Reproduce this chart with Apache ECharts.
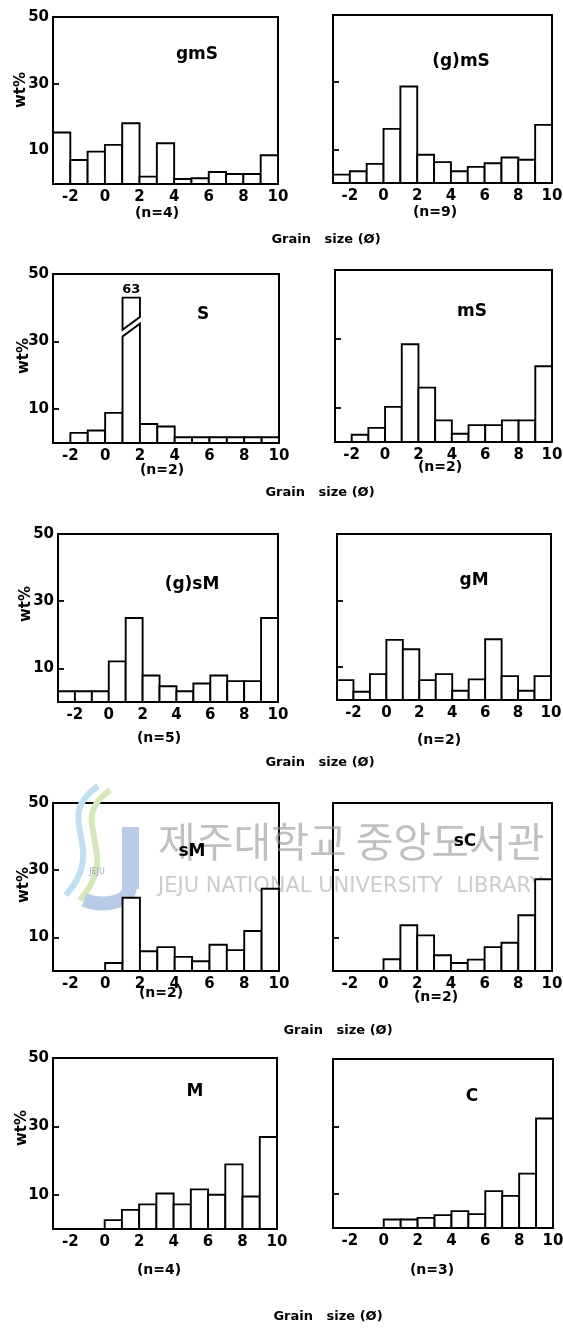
<!DOCTYPE html>
<html>
<head>
<meta charset="utf-8">
<style>
html, body { margin: 0; padding: 0; background: #fff; }
#main { width: 563px; height: 1329px; }
</style>
<script src="https://cdn.jsdelivr.net/npm/echarts@6/dist/echarts.min.js"></script>
</head>
<body>
<div id="main"></div>
<script>
// grain size distributions (wt% per 1 phi class), one histogram per sediment type
var binEdges = [-3, -2, -1, 0, 1, 2, 3, 4, 5, 6, 7, 8, 9, 10];
var xTickLabels = [-2, 0, 2, 4, 6, 8, 10];
var yTickLabels = [10, 30, 50];
var yTicks = [10, 30];

var panelNames = ['gmS', '(g)mS', 'S', 'mS', '(g)sM', 'gM', 'sM', 'sC', 'M', 'C'];
var sampleCounts = [4, 9, 2, 2, 5, 2, 2, 2, 4, 3];

var gmS  = [15.4, 7.2, 9.7, 11.7, 18.2, 2.2, 12.2, 1.5, 1.7, 3.6, 3.0, 3.0, 8.6];
var g_mS = [2.5, 3.5, 5.7, 16.1, 28.7, 8.4, 6.2, 3.5, 4.8, 5.9, 7.6, 6.9, 17.3];
var S    = [0, 3.0, 3.7, 8.9, 63, 5.6, 4.9, 1.7, 1.7, 1.7, 1.7, 1.7, 1.7];
var mS   = [0, 2.1, 4.1, 10.2, 28.4, 15.8, 6.3, 2.4, 4.9, 4.9, 6.3, 6.3, 22.0];
var g_sM = [3.2, 3.2, 3.2, 12.1, 25.0, 7.9, 4.7, 3.2, 5.5, 7.9, 6.2, 6.2, 25.0];
var gM   = [6.0, 2.5, 7.8, 18.1, 15.3, 6.0, 7.8, 2.8, 6.2, 18.3, 7.2, 2.8, 7.2];
var sM   = [0, 0, 0, 2.4, 21.8, 5.9, 7.1, 4.2, 2.9, 7.8, 6.2, 11.9, 24.5];
var sC   = [0, 0, 0, 3.5, 13.6, 10.6, 4.7, 2.4, 3.4, 7.1, 8.4, 16.6, 27.3];
var M    = [0, 0, 0, 2.6, 5.6, 7.2, 10.4, 7.2, 11.6, 10.0, 18.9, 9.5, 26.9];
var C    = [0, 0, 0, 2.5, 2.5, 3.0, 3.8, 5.0, 4.1, 10.9, 9.5, 16.1, 32.4];
var panelValues = [gmS, g_mS, S, mS, g_sM, gM, sM, sC, M, C];

var axisTitle = 'Grain   size (Ø)';
var yTitle = 'wt%';

// layout (px)
var boxes = [
    [53, 17, 225, 167], [333, 15, 219, 168],
    [53, 274, 226, 169], [335, 270, 217, 172],
    [58, 534, 220, 168], [337, 534, 214, 166],
    [53, 803, 226, 168], [333, 803, 219, 168],
    [53, 1058, 224, 171], [333, 1059, 220, 169]
];
var namePos = [[197, 55], [461, 62], [203, 315], [472, 312], [192, 585], [474, 581], [192, 852], [465, 842], [195, 1092], [472, 1097]];
var nPos = [[157, 213], [435, 212], [162, 470], [440, 467], [159, 738], [439, 740], [161, 993], [436, 997], [159, 1270], [432, 1270]];
var axisTitlePos = [[326, 240], [320, 493], [320, 763], [338, 1031], [328, 1317]];
var yTitlePos = [[21, 90], [24, 356], [26, 604], [24, 885], [22, 1128]];

var FONT = '"DejaVu Sans", sans-serif';
var Y_MAX = 50;

var dom = document.getElementById('main');
var myChart = echarts.init(dom);

function renderBin(params, api) {
    var x0 = api.value(0), x1 = api.value(1), v = api.value(2);
    if (!v) return null;
    var style = { fill: '#fff', stroke: '#000', lineWidth: 1.9 };
    if (v <= Y_MAX) {
        var a = api.coord([x0, 0]), b = api.coord([x1, v]);
        return {
            type: 'rect',
            shape: { x: a[0], y: b[1], width: b[0] - a[0], height: a[1] - b[1] },
            style: style
        };
    }
    // off-scale class: broken bar, real value written above it
    var cap = 43, lo = 31.5, gap = 2, slant = 3.8;
    var P = function (x, y) { return api.coord([x, y]); };
    var top = P((x0 + x1) / 2, cap);
    return {
        type: 'group',
        children: [
            { type: 'polygon', shape: { points: [P(x0, 0), P(x1, 0), P(x1, lo + slant), P(x0, lo)] }, style: style },
            { type: 'polygon', shape: { points: [P(x0, lo + gap), P(x1, lo + gap + slant), P(x1, cap), P(x0, cap)] }, style: style },
            {
                type: 'text', x: top[0], y: top[1] - 2,
                style: {
                    text: String(v), font: 'bold 13px ' + FONT, fill: '#000',
                    align: 'center', verticalAlign: 'bottom', textAlign: 'center', textVerticalAlign: 'bottom'
                }
            }
        ]
    };
}

function label(text, x, y, size, extra) {
    var el = {
        type: 'text', x: x, y: y, z: 10,
        style: {
            text: text, font: 'bold ' + size + 'px ' + FONT, fill: '#000',
            align: 'center', verticalAlign: 'middle', textAlign: 'center', textVerticalAlign: 'middle'
        }
    };
    if (extra) for (var k in extra) el[k] = extra[k];
    return el;
}

var grids = [], xAxes = [], yAxes = [], series = [], graphics = [];

panelValues.forEach(function (vals, i) {
    var b = boxes[i];
    grids.push({
        left: b[0], top: b[1], width: b[2], height: b[3],
        show: true, borderColor: '#000', borderWidth: 2,
        backgroundColor: 'transparent', outerBoundsMode: 'none'
    });
    xAxes.push({
        gridIndex: i, type: 'value', min: -3, max: 10,
        axisLine: { show: false, onZero: false }, axisTick: { show: false }, splitLine: { show: false },
        axisLabel: {
            customValues: xTickLabels, margin: 6, color: '#000',
            fontSize: 15, fontWeight: 'bold', fontFamily: FONT
        }
    });
    yAxes.push({
        gridIndex: i, type: 'value', min: 0, max: Y_MAX,
        axisLine: { show: false, onZero: false }, splitLine: { show: false },
        axisTick: { show: true, customValues: yTicks, inside: true, length: 6, lineStyle: { color: '#000', width: 1.8 } },
        axisLabel: {
            show: i % 2 === 0, customValues: yTickLabels, margin: 4, color: '#000',
            fontSize: 15, fontWeight: 'bold', fontFamily: FONT
        }
    });
    series.push({
        type: 'custom', name: panelNames[i],
        xAxisIndex: i, yAxisIndex: i,
        renderItem: renderBin, clip: false,
        encode: { x: [0, 1], y: 2 },
        data: vals.map(function (v, k) { return [binEdges[k], binEdges[k + 1], v]; })
    });
    graphics.push(label(panelNames[i], namePos[i][0], namePos[i][1], 17));
    graphics.push(label('(n=' + sampleCounts[i] + ')', nPos[i][0], nPos[i][1], 14));
});

axisTitlePos.forEach(function (p) { graphics.push(label(axisTitle, p[0], p[1], 13)); });
yTitlePos.forEach(function (p) { graphics.push(label(yTitle, p[0], p[1], 15, { rotation: Math.PI / 2 })); });

// library watermark over the 4th row
graphics.push(
    { type: 'bezierCurve', z: 1, shape: { x1: 98, y1: 786, cpx1: 50, cpy1: 820, cpx2: 110, cpy2: 845, x2: 66, y2: 895 },
      style: { stroke: '#bfe0f2', lineWidth: 6, fill: null } },
    { type: 'bezierCurve', z: 1, shape: { x1: 110, y1: 790, cpx1: 64, cpy1: 822, cpx2: 124, cpy2: 850, x2: 80, y2: 900 },
      style: { stroke: '#d6e8b8', lineWidth: 6, fill: null } },
    { type: 'rect', z: 1, shape: { x: 122, y: 827, width: 17, height: 62 }, style: { fill: '#b8cce8' } },
    { type: 'bezierCurve', z: 1, shape: { x1: 130, y1: 886, cpx1: 130, cpy1: 905, cpx2: 100, cpy2: 906, x2: 84, y2: 900 },
      style: { stroke: '#b8cce8', lineWidth: 14, fill: null } },
    { type: 'text', z: 1, x: 97, y: 872, style: { text: 'JEJU', font: '8px ' + FONT, fill: '#9ab', align: 'center', verticalAlign: 'middle', textAlign: 'center', textVerticalAlign: 'middle' } },
    { type: 'text', z: 1, x: 158, y: 841,
      style: { text: '제주대학교 중앙도서관', font: '41px "Noto Sans CJK KR"', fill: 'rgba(150,150,150,0.6)', align: 'left', verticalAlign: 'middle', textAlign: 'left', textVerticalAlign: 'middle' } },
    { type: 'text', z: 1, x: 158, y: 887,
      style: { text: 'JEJU NATIONAL UNIVERSITY  LIBRARY', font: '21px "DejaVu Sans"', fill: 'rgba(170,170,170,0.6)', align: 'left', verticalAlign: 'middle', textAlign: 'left', textVerticalAlign: 'middle' } }
);

var option = {
    animation: false,
    backgroundColor: '#fff',
    grid: grids,
    xAxis: xAxes,
    yAxis: yAxes,
    series: series,
    graphic: graphics
};

if (option && typeof option === 'object') {
    myChart.setOption(option);
}
</script>
</body>
</html>
